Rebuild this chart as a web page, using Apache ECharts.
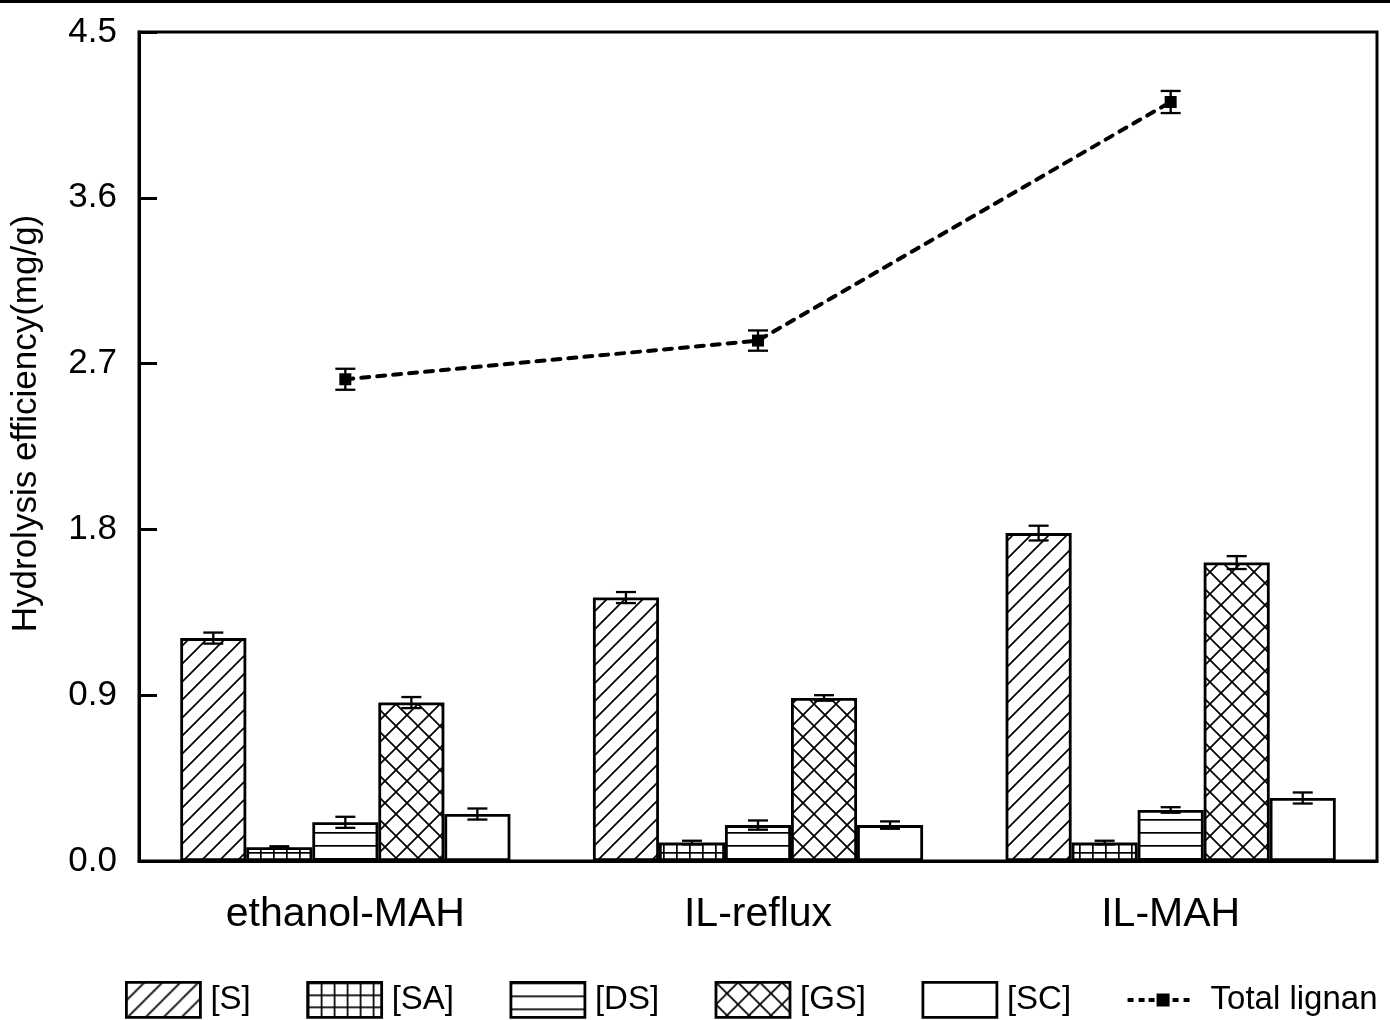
<!DOCTYPE html>
<html>
<head>
<meta charset="utf-8">
<script src="https://cdn.jsdelivr.net/npm/echarts@6/dist/echarts.min.js"></script>
<style>
html,body{margin:0;padding:0;background:#fff;}
#chart{width:1390px;height:1020px;}
</style>
</head>
<body>
<div id="chart"></div>
<script>
const categories = ['ethanol-MAH', 'IL-reflux', 'IL-MAH'];
const seriesNames = ['[S]', '[SA]', '[DS]', '[GS]', '[SC]'];
const S_vals  = [1.21, 1.43, 1.78];
const S_err   = [0.03, 0.03, 0.04];
const SA_vals = [0.075, 0.10, 0.10];
const SA_err  = [0.005, 0.01, 0.01];
const DS_vals = [0.21, 0.195, 0.277];
const DS_err  = [0.03, 0.025, 0.015];
const GS_vals = [0.86, 0.885, 1.62];
const GS_err  = [0.03, 0.015, 0.035];
const SC_vals = [0.255, 0.195, 0.342];
const SC_err  = [0.03, 0.02, 0.03];
const total_vals = [2.615, 2.825, 4.12];
const total_err  = [0.057, 0.055, 0.06];
const yTicks = [0, 0.9, 1.8, 2.7, 3.6, 4.5];

const barVals = [S_vals, SA_vals, DS_vals, GS_vals, SC_vals];
const barErrs = [S_err, SA_err, DS_err, GS_err, SC_err];

function makePattern(kind) {
  const c = document.createElement('canvas');
  let w = 18, h = 18;
  if (kind === 'SA') { w = 13; h = 12; }
  if (kind === 'DS') { w = 8; h = 13; }
  if (kind === 'GS') { w = 22; h = 22; }
  if (kind === 'SC') { w = 4; h = 4; }
  c.width = w; c.height = h;
  const ctx = c.getContext('2d');
  ctx.fillStyle = '#fff';
  ctx.fillRect(0, 0, w, h);
  ctx.strokeStyle = '#000';
  ctx.fillStyle = '#000';
  ctx.lineWidth = 1.7;
  function fwd() {
    ctx.beginPath();
    ctx.moveTo(-w, 2 * h); ctx.lineTo(2 * w, -h);
    ctx.moveTo(-w, h); ctx.lineTo(w, -h);
    ctx.moveTo(0, 2 * h); ctx.lineTo(2 * w, 0);
    ctx.stroke();
  }
  function back() {
    ctx.beginPath();
    ctx.moveTo(-w, -h); ctx.lineTo(2 * w, 2 * h);
    ctx.moveTo(-w, 0); ctx.lineTo(w, 2 * h);
    ctx.moveTo(0, -h); ctx.lineTo(2 * w, h);
    ctx.stroke();
  }
  if (kind === 'S') fwd();
  if (kind === 'SA') { ctx.fillRect(0, 0, 1.7, h); ctx.fillRect(0, 0, w, 1.7); }
  if (kind === 'DS') { ctx.fillRect(0, 0, w, 1.7); }
  if (kind === 'GS') { fwd(); back(); }
  return { image: c, repeat: 'repeat' };
}
const patternKinds = ['S', 'SA', 'DS', 'GS', 'SC'];

const errData = [];
barVals.forEach((vals, k) => {
  vals.forEach((v, i) => {
    errData.push([i, v - barErrs[k][i], v + barErrs[k][i], k]);
  });
});
total_vals.forEach((v, i) => {
  errData.push([i, v - total_err[i], v + total_err[i], -1]);
});

const chart = echarts.init(document.getElementById('chart'), null, { renderer: 'canvas' });

const FONT = 'Liberation Sans, Arial, sans-serif';

const series = seriesNames.map((name, k) => ({
  name: name,
  type: 'bar',
  data: barVals[k],
  barGap: '0%',
  barCategoryGap: '20%',
  itemStyle: {
    color: makePattern(patternKinds[k]),
    borderColor: '#000',
    borderWidth: 2.8
  },
  emphasis: { disabled: true },
  z: 2
}));

series.push({
  name: 'Total lignan',
  type: 'line',
  data: total_vals,
  symbol: 'rect',
  symbolSize: 12,
  itemStyle: { color: '#000' },
  lineStyle: { color: '#000', width: 4, type: [8, 8], cap: 'round' },
  emphasis: { disabled: true },
  z: 3
});

series.push({
  name: 'errors',
  type: 'custom',
  data: errData,
  encode: { x: 0, y: [1, 2] },
  z: 5,
  silent: true,
  renderItem: function (params, api) {
    const i = api.value(0);
    const lo = api.value(1);
    const hi = api.value(2);
    const k = api.value(3);
    const band = api.size([1, 0])[0];
    const pLo = api.coord([i, lo]);
    const pHi = api.coord([i, hi]);
    let x = pLo[0];
    if (k >= 0) {
      const bw = band * 0.8 / 5;
      x = pLo[0] - band * 0.4 + bw * (k + 0.5);
    }
    const cw = 10;
    const st = { stroke: '#000', lineWidth: 2.3 };
    return {
      type: 'group',
      children: [
        { type: 'line', shape: { x1: x, y1: pLo[1], x2: x, y2: pHi[1] }, style: st },
        { type: 'line', shape: { x1: x - cw, y1: pLo[1], x2: x + cw, y2: pLo[1] }, style: st },
        { type: 'line', shape: { x1: x - cw, y1: pHi[1], x2: x + cw, y2: pHi[1] }, style: st }
      ]
    };
  }
});

const lineIcon = 'path://M0,0h0.04v0.04h-0.04z M73.96,34.96h0.04v0.04h-0.04z ' +
  'M1,15.5h6v4h-6z M12,15.5h6v4h-6z M22,15.5h6v4h-6z M30,11h13v13h-13z ' +
  'M46,15.5h6v4h-6z M57,15.5h6v4h-6z';
const legendItems = seriesNames.map(n => ({ name: n, icon: 'rect' }));
legendItems.push({ name: 'Total lignan', icon: lineIcon, itemStyle: { color: '#000', borderWidth: 0 } });

const option = {
  backgroundColor: '#fff',
  animation: false,
  grid: {
    left: 139, right: 13, top: 32, bottom: 159,
    show: true, borderColor: '#000', borderWidth: 3, backgroundColor: 'transparent'
  },
  xAxis: {
    type: 'category',
    data: categories,
    axisLine: { show: true, lineStyle: { color: '#000', width: 3 } },
    axisTick: { show: false },
    axisLabel: { color: '#000', fontSize: 41, fontFamily: FONT, margin: 33 },
    splitLine: { show: false }
  },
  yAxis: {
    type: 'value',
    min: yTicks[0],
    max: yTicks[yTicks.length - 1],
    interval: 0.9,
    name: 'Hydrolysis efficiency(mg/g)',
    nameLocation: 'middle',
    nameGap: 95,
    nameTextStyle: { color: '#000', fontSize: 35, fontFamily: FONT, padding: [0, 0, 0, 46] },
    axisLine: { show: true, lineStyle: { color: '#000', width: 3 } },
    axisTick: { show: true, inside: true, length: 18, lineStyle: { color: '#000', width: 3 } },
    axisLabel: { color: '#000', fontSize: 35, fontFamily: FONT, margin: 22, formatter: v => v.toFixed(1) },
    splitLine: { show: false }
  },
  legend: {
    data: legendItems,
    left: 125,
    top: 981,
    padding: 0,
    itemWidth: 74,
    itemHeight: 35,
    itemGap: 55.5,
    selectedMode: false,
    itemStyle: { borderColor: '#000', borderWidth: 2.8 },
    textStyle: { color: '#000', fontSize: 33, fontFamily: FONT, padding: [0, 0, 0, 5] }
  },
  graphic: [
    { type: 'rect', left: 0, top: 0, shape: { width: 1390, height: 3 }, style: { fill: '#000' }, z: 100 }
  ],
  series: series
};
chart.setOption(option);
</script>
</body>
</html>
